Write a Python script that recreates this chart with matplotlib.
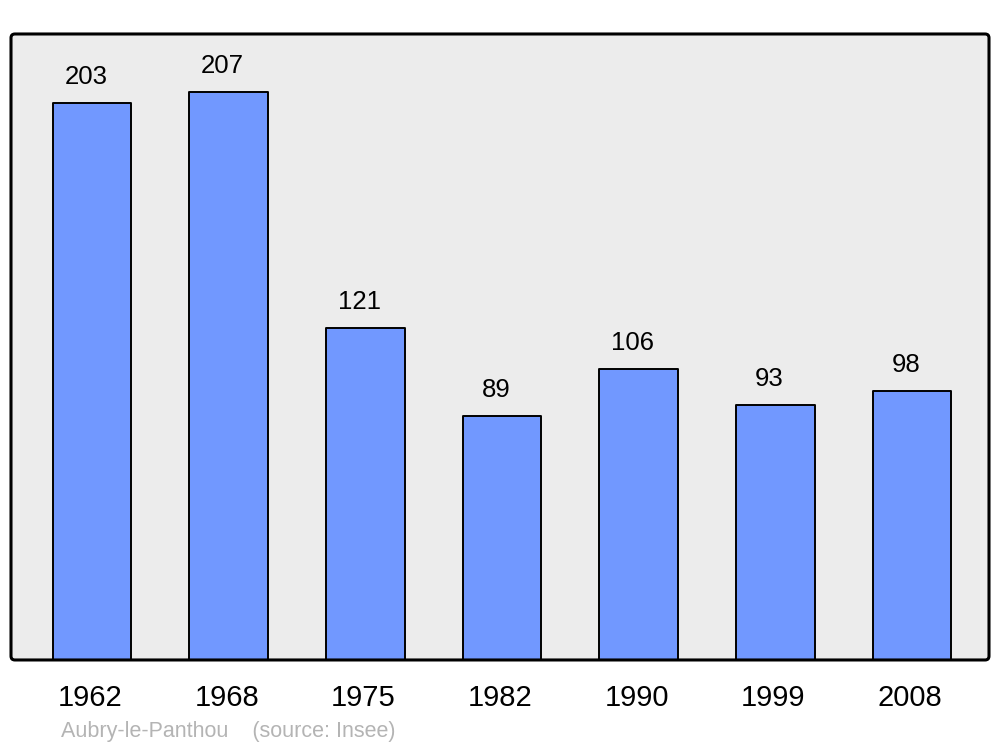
import matplotlib
matplotlib.use("Agg")
import matplotlib.pyplot as plt
import matplotlib.transforms as mtransforms
from matplotlib.patches import FancyBboxPatch
import numpy as np

# data
years = ['1962', '1968', '1975', '1982', '1990', '1999', '2008']
population = [203, 207, 121, 89, 106, 93, 98]
commune = 'Aubry-le-Panthou'
source = '(source: Insee)'

plt.rcParams['font.family'] = ['Liberation Sans', 'DejaVu Sans']

fig = plt.figure(figsize=(10, 7.47), dpi=100)
ax = fig.add_axes([0.011, 0.1165, 0.978, 0.838])
ax.set_facecolor('none')

x = np.arange(len(years))
ax.bar(x, population, width=0.575, color='#7198ff', edgecolor='black',
       linewidth=1.4, zorder=2, joinstyle='round')

# value labels above bars
for xi, val in zip(x, population):
    ax.annotate(str(val), xy=(xi, val), xytext=(-4.5, 10), textcoords='offset points',
                ha='center', va='bottom', fontsize=18.5)

ax.set_xlim(-0.593, 6.563)
ax.set_ylim(0, 228)
ax.set_yticks([])
ax.set_xticks(x)
ax.set_xticklabels(years, fontsize=21)
ax.tick_params(axis='x', length=0, pad=17)
# year labels sit a little left of the bar centres
shift = mtransforms.ScaledTranslation(-2 / 100, 0, fig.dpi_scale_trans)
for lbl in ax.get_xticklabels():
    lbl.set_transform(lbl.get_transform() + shift)
for s in ax.spines.values():
    s.set_visible(False)

# background and rounded frame
aspect = 978 / 626
bg = FancyBboxPatch((0, 0), 1, 1, boxstyle='round,pad=0,rounding_size=0.004',
                    mutation_aspect=aspect, transform=ax.transAxes,
                    facecolor='#ececec', edgecolor='none', zorder=0, clip_on=False)
ax.add_patch(bg)
frame = FancyBboxPatch((0, 0), 1, 1, boxstyle='round,pad=0,rounding_size=0.004',
                       mutation_aspect=aspect, transform=ax.transAxes,
                       facecolor='none', edgecolor='black', linewidth=2.2,
                       zorder=5, clip_on=False)
ax.add_patch(frame)

fig.text(0.061, 1 - 732 / 747, commune + '    ' + source, fontsize=15.5,
         color='#b4b4b4', ha='left', va='center')

fig.savefig('out.png', dpi=100, facecolor='white')
